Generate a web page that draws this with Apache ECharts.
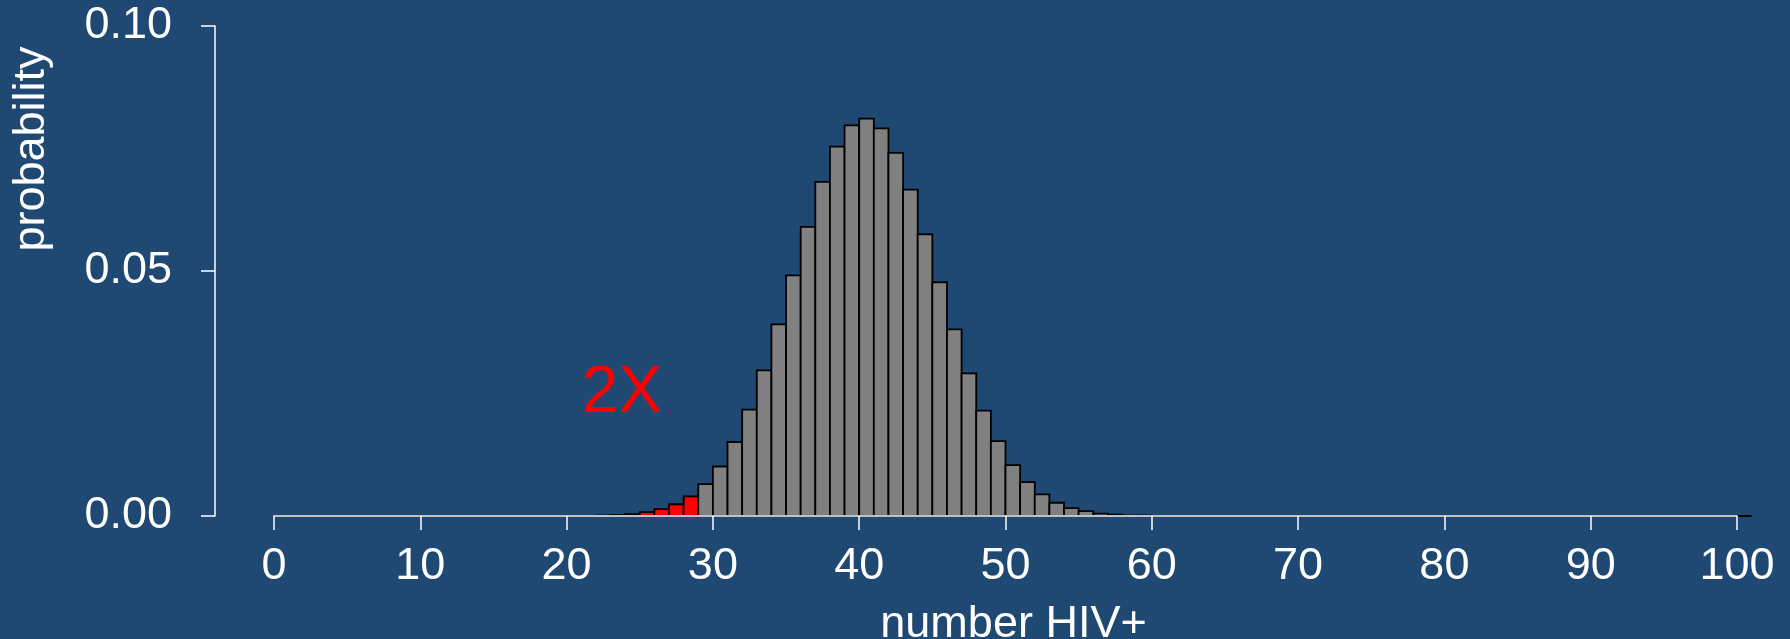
<!DOCTYPE html>
<html>
<head>
<meta charset="utf-8">
<script src="https://cdn.jsdelivr.net/npm/echarts@6/dist/echarts.min.js"></script>
<style>
  html, body { margin: 0; padding: 0; background: #1f4972; }
  #chart { width: 1790px; height: 639px; }
</style>
</head>
<body>
<div id="chart"></div>
<script>
// number of HIV+ (0..100) and its probability
var counts = [];
for (var i = 0; i <= 100; i++) counts.push(i);

var probs = [
  0, 0, 0, 0, 0, 0, 0, 0, 0, 0,                                    // 0-9
  0, 0, 0, 0, 0, 0, 0, 0, 0, 0,                                    // 10-19
  0, 0, 0.0001, 0.0002, 0.0004, 0.0008, 0.0014, 0.0024, 0.0040, 0.0065, // 20-29
  0.0101, 0.0151, 0.0217, 0.0297, 0.0391, 0.0491, 0.0590, 0.0682, 0.0754, 0.0797, // 30-39
  0.0811, 0.0791, 0.0741, 0.0666, 0.0575, 0.0477, 0.0381, 0.0291, 0.0215, 0.0153, // 40-49
  0.0104, 0.0069, 0.0044, 0.0027, 0.0016, 0.0010, 0.0005, 0.0003, 0.0001, 0.0001, // 50-59
  0, 0, 0, 0, 0, 0, 0, 0, 0, 0,                                    // 60-69
  0, 0, 0, 0, 0, 0, 0, 0, 0, 0,                                    // 70-79
  0, 0, 0, 0, 0, 0, 0, 0, 0, 0,                                    // 80-89
  0, 0, 0, 0, 0, 0, 0, 0, 0, 0,                                    // 90-99
  0                                                                // 100
];

var cutoff = 28;          // bars up to here are red
var xTicks = [0, 10, 20, 30, 40, 50, 60, 70, 80, 90, 100];
var yTicks = [0, 0.05, 0.10];

var FONT = '"Liberation Sans", Arial, Helvetica, sans-serif';
var WHITE = '#ffffff';

var chart = echarts.init(document.getElementById('chart'));

var option = {
  backgroundColor: '#1f4972',
  animation: false,
  grid: { left: 274, right: 53, top: 26, bottom: 123, outerBoundsMode: 'none', containLabel: false },
  xAxis: {
    type: 'value',
    min: xTicks[0],
    max: xTicks[xTicks.length - 1],
    interval: 10,
    z: 3,
    name: 'number HIV+',
    nameLocation: 'middle',
    nameGap: 86,
    nameTextStyle: { color: WHITE, fontSize: 45, fontFamily: FONT, padding: [0, 0, 0, 16] },
    axisLine: { show: true, onZero: false, lineStyle: { color: WHITE, width: 1.5 } },
    axisTick: { show: true, length: 14, lineStyle: { color: WHITE, width: 1.5 } },
    axisLabel: { color: WHITE, fontSize: 45, fontFamily: FONT, margin: 28 },
    splitLine: { show: false }
  },
  yAxis: {
    type: 'value',
    min: yTicks[0],
    max: yTicks[yTicks.length - 1],
    interval: 0.05,
    offset: 59,
    axisLine: { show: true, onZero: false, lineStyle: { color: WHITE, width: 1.5 } },
    axisTick: { show: true, length: 14, lineStyle: { color: WHITE, width: 1.5 } },
    axisLabel: {
      color: WHITE, fontSize: 45, fontFamily: FONT, margin: 43,
      formatter: function (v) { return v.toFixed(2); }
    },
    splitLine: { show: false }
  },
  graphic: [
    {
      type: 'text',
      x: 32, y: 149,
      rotation: Math.PI / 2,
      style: {
        text: 'probability', fill: WHITE, fontSize: 45, fontFamily: FONT,
        align: 'center', verticalAlign: 'middle'
      }
    },
    {
      type: 'text',
      x: 622, y: 394,
      style: {
        text: '2X', fill: '#ff0000', fontSize: 66, fontFamily: FONT,
        align: 'center', verticalAlign: 'middle'
      }
    }
  ],
  series: [{
    type: 'custom',
    clip: false,
    data: counts.map(function (k, i) { return [k, probs[i]]; }),
    encode: { x: 0, y: 1 },
    renderItem: function (params, api) {
      var k = api.value(0);
      var p = api.value(1);
      var lo = api.coord([k, 0]);
      var hi = api.coord([k + 1, p]);
      return {
        type: 'rect',
        shape: { x: lo[0], y: hi[1], width: hi[0] - lo[0], height: lo[1] - hi[1] },
        style: {
          fill: k <= cutoff ? '#ff0000' : '#808080',
          stroke: '#000000',
          lineWidth: 1.8
        }
      };
    }
  }]
};

chart.setOption(option);
</script>
</body>
</html>
